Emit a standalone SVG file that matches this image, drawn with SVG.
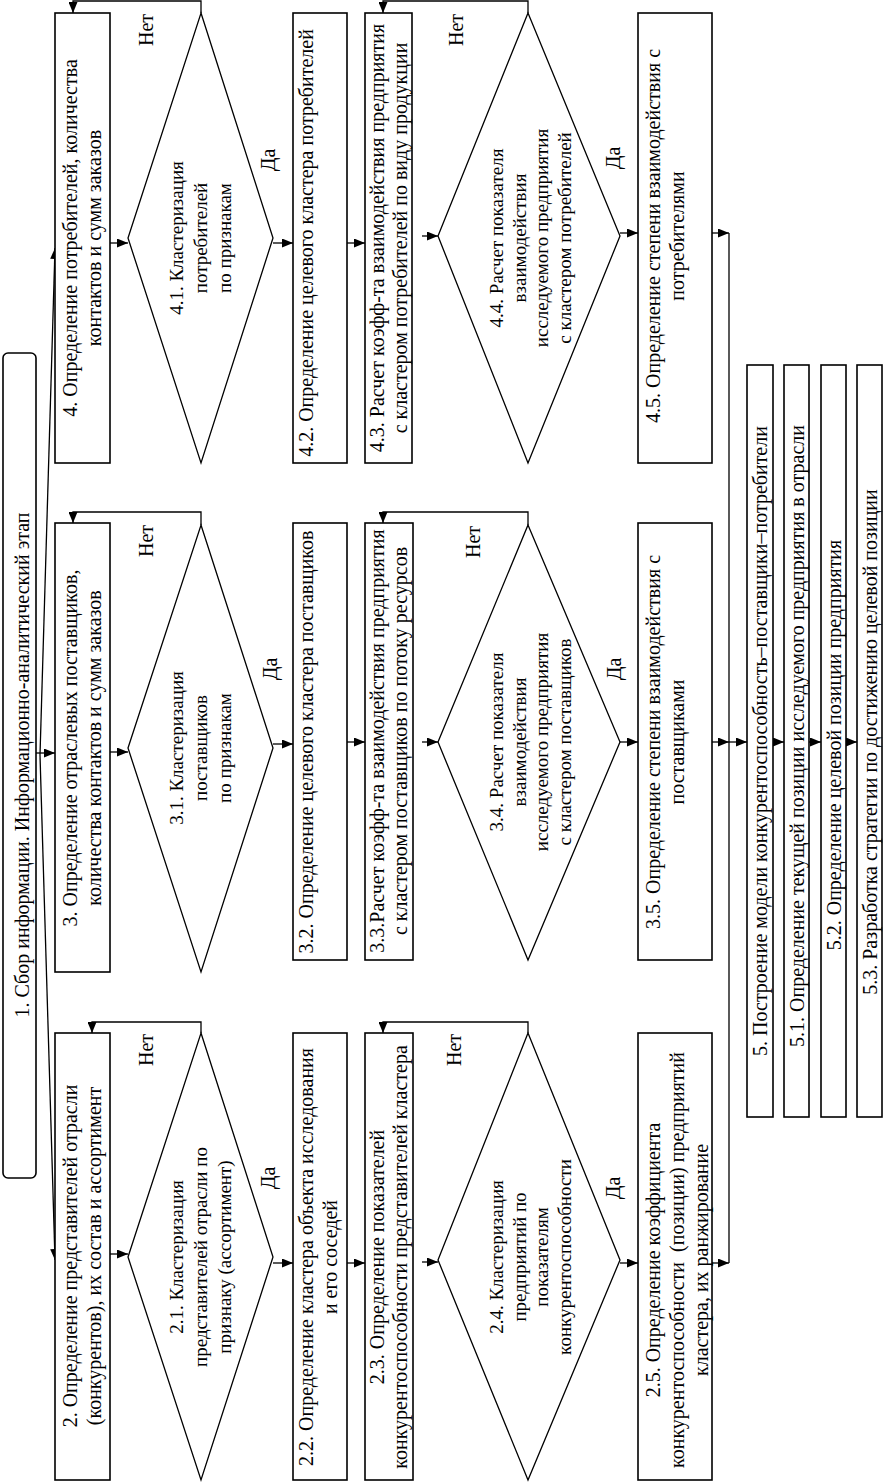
<svg xmlns="http://www.w3.org/2000/svg" width="883" height="1484" viewBox="0 0 883 1484">
<style>
.b{fill:#fff;stroke:#000;stroke-width:1.6}
.d{fill:#fff;stroke:#000;stroke-width:1.3}
.c{fill:none;stroke:#000;stroke-width:1.3}
text{font-family:"Liberation Serif","Times New Roman",serif;font-size:20px;fill:#000;text-anchor:middle}
.s{font-size:19px}
</style>
<defs>
<marker id="ah" markerUnits="userSpaceOnUse" markerWidth="11" markerHeight="9" refX="11" refY="4.5" orient="auto">
<path d="M0,0 L11,4.5 L0,9 z" fill="#000"/>
</marker>
</defs>
<rect width="883" height="1484" fill="#fff"/>

<g id="connectors">
<line class="c" x1="36" y1="753" x2="55" y2="753" marker-end="url(#ah)"/>
<line class="c" x1="40" y1="755" x2="55" y2="248" marker-end="url(#ah)"/>
<line class="c" x1="40" y1="755" x2="55" y2="1260" marker-end="url(#ah)"/>
<!-- row 4 -->
<line class="c" x1="110" y1="243" x2="128" y2="243" marker-end="url(#ah)"/>
<line class="c" x1="273" y1="243" x2="293" y2="243" marker-end="url(#ah)"/>
<line class="c" x1="347" y1="243" x2="365" y2="243" marker-end="url(#ah)"/>
<line class="c" x1="422" y1="236" x2="438" y2="236" marker-end="url(#ah)"/>
<line class="c" x1="620" y1="233" x2="638" y2="233" marker-end="url(#ah)"/>
<line class="c" x1="712" y1="233" x2="729" y2="233" marker-end="url(#ah)"/>
<!-- row 3 -->
<line class="c" x1="110" y1="752" x2="128" y2="752" marker-end="url(#ah)"/>
<line class="c" x1="273" y1="744" x2="293" y2="744" marker-end="url(#ah)"/>
<line class="c" x1="347" y1="742" x2="365" y2="742" marker-end="url(#ah)"/>
<line class="c" x1="422" y1="742" x2="438" y2="742" marker-end="url(#ah)"/>
<line class="c" x1="620" y1="742" x2="638" y2="742" marker-end="url(#ah)"/>
<line class="c" x1="712" y1="742" x2="729" y2="742" marker-end="url(#ah)"/>
<line class="c" x1="729" y1="742" x2="747" y2="742" marker-end="url(#ah)"/>
<line class="c" x1="773" y1="742" x2="784" y2="742" marker-end="url(#ah)"/>
<line class="c" x1="809" y1="742" x2="821" y2="742" marker-end="url(#ah)"/>
<line class="c" x1="846" y1="742" x2="857" y2="742" marker-end="url(#ah)"/>
<!-- row 2 -->
<line class="c" x1="110" y1="1254" x2="128" y2="1254" marker-end="url(#ah)"/>
<line class="c" x1="273" y1="1263" x2="293" y2="1263" marker-end="url(#ah)"/>
<line class="c" x1="347" y1="1263" x2="365" y2="1263" marker-end="url(#ah)"/>
<line class="c" x1="422" y1="1262" x2="438" y2="1262" marker-end="url(#ah)"/>
<line class="c" x1="620" y1="1263" x2="638" y2="1263" marker-end="url(#ah)"/>
<line class="c" x1="712" y1="1263" x2="729" y2="1263" marker-end="url(#ah)"/>
<!-- collector -->
<line class="c" x1="729" y1="233" x2="729" y2="1263"/>
<!-- Нет loops -->
<polyline class="c" points="201,13 201,1 73,1 73,13" marker-end="url(#ah)"/>
<polyline class="c" points="528,13 528,1 383,1 383,13" marker-end="url(#ah)"/>
<polyline class="c" points="201,525 201,512 73,512 73,523" marker-end="url(#ah)"/>
<polyline class="c" points="528,525 528,512 383,512 383,523" marker-end="url(#ah)"/>
<polyline class="c" points="201,1033 201,1022 92,1022 92,1033" marker-end="url(#ah)"/>
<polyline class="c" points="528,1033 528,1022 383,1022 383,1033" marker-end="url(#ah)"/>
<!-- labels -->
<text transform="translate(0,30) rotate(-90)" x="0" y="153">Нет</text>
<text transform="translate(0,541) rotate(-90)" x="0" y="153">Нет</text>
<text transform="translate(0,1050) rotate(-90)" x="0" y="153">Нет</text>
<text transform="translate(0,30) rotate(-90)" x="0" y="463">Нет</text>
<text transform="translate(0,542) rotate(-90)" x="0" y="480">Нет</text>
<text transform="translate(0,1050) rotate(-90)" x="0" y="461">Нет</text>
<text transform="translate(0,160) rotate(-90)" x="0" y="275">Да</text>
<text transform="translate(0,669) rotate(-90)" x="0" y="277">Да</text>
<text transform="translate(0,1178) rotate(-90)" x="0" y="275">Да</text>
<text transform="translate(0,158) rotate(-90)" x="0" y="620">Да</text>
<text transform="translate(0,669) rotate(-90)" x="0" y="621">Да</text>
<text transform="translate(0,1188) rotate(-90)" x="0" y="620">Да</text>
</g>

<g id="n1">
<rect class="b" x="3" y="353" width="33" height="825" rx="5"/>
<text transform="translate(0,765) rotate(-90)" x="0" y="29">1. Сбор информации. Информационно-аналитический этап</text>
</g>

<g id="n4">
<rect class="b" x="55" y="13" width="55" height="450"/>
<text transform="translate(0,238) rotate(-90)"><tspan x="0" y="77">4. Определение потребителей, количества</tspan><tspan x="0" y="101">контактов и сумм заказов</tspan></text>
</g>
<g id="n3">
<rect class="b" x="55" y="523" width="55" height="449"/>
<text transform="translate(0,748) rotate(-90)"><tspan x="0" y="77">3. Определение отраслевых поставщиков,</tspan><tspan x="0" y="101">количества контактов и сумм заказов</tspan></text>
</g>
<g id="n2">
<rect class="b" x="55" y="1033" width="55" height="447"/>
<text transform="translate(0,1256) rotate(-90)"><tspan x="0" y="77">2. Определение представителей отрасли</tspan><tspan x="0" y="101">(конкурентов), их состав и ассортимент</tspan></text>
</g>

<g id="n4_1">
<polygon class="d" points="201,13 273,238 201,463 128,238"/>
<text class="s" transform="translate(0,238) rotate(-90)"><tspan x="0" y="183">4.1. Кластеризация</tspan><tspan x="0" y="207">потребителей</tspan><tspan x="0" y="231">по признакам</tspan></text>
</g>
<g id="n3_1">
<polygon class="d" points="201,525 273,748 201,972 128,748"/>
<text class="s" transform="translate(0,748) rotate(-90)"><tspan x="0" y="183">3.1. Кластеризация</tspan><tspan x="0" y="207">поставщиков</tspan><tspan x="0" y="231">по признакам</tspan></text>
</g>
<g id="n2_1">
<polygon class="d" points="201,1033 273,1257 201,1480 128,1257"/>
<text class="s" transform="translate(0,1257) rotate(-90)"><tspan x="0" y="183">2.1. Кластеризация</tspan><tspan x="0" y="207">представителей отрасли по</tspan><tspan x="0" y="231">признаку (ассортимент)</tspan></text>
</g>

<g id="n4_2">
<rect class="b" x="293" y="13" width="54" height="450"/>
<text transform="translate(0,243) rotate(-90)" x="0" y="313">4.2. Определение целевого кластера потребителей</text>
</g>
<g id="n3_2">
<rect class="b" x="293" y="523" width="54" height="437"/>
<text transform="translate(0,742) rotate(-90)" x="0" y="313">3.2. Определение целевого кластера поставщиков</text>
</g>
<g id="n2_2">
<rect class="b" x="293" y="1033" width="54" height="447"/>
<text transform="translate(0,1257) rotate(-90)"><tspan x="0" y="313">2.2. Определение кластера объекта исследования</tspan><tspan x="0" y="337">и его соседей</tspan></text>
</g>

<g id="n4_3">
<rect class="b" x="365" y="13" width="47" height="450"/>
<text transform="translate(0,238) rotate(-90)"><tspan x="0" y="384">4.3. Расчет коэфф-та взаимодействия предприятия</tspan><tspan x="0" y="407">с кластером потребителей по виду продукции</tspan></text>
</g>
<g id="n3_3">
<rect class="b" x="365" y="523" width="48" height="437"/>
<text transform="translate(0,741) rotate(-90)"><tspan x="0" y="384">3.3.Расчет коэфф-та взаимодействия предприятия</tspan><tspan x="0" y="407">с кластером поставщиков по потоку ресурсов</tspan></text>
</g>
<g id="n2_3">
<rect class="b" x="365" y="1033" width="48" height="447"/>
<text transform="translate(0,1257) rotate(-90)"><tspan x="0" y="384">2.3. Определение показателей</tspan><tspan x="0" y="407">конкурентоспособности представителей кластера</tspan></text>
</g>

<g id="n4_4">
<polygon class="d" points="528,13 620,236 528,463 438,236"/>
<text class="s" transform="translate(0,238) rotate(-90)"><tspan x="0" y="503">4.4. Расчет показателя</tspan><tspan x="0" y="525.5">взаимодействия</tspan><tspan x="0" y="548">исследуемого предприятия</tspan><tspan x="0" y="570.5">с кластером потребителей</tspan></text>
</g>
<g id="n3_4">
<polygon class="d" points="528,525 620,742 528,960 438,742"/>
<text class="s" transform="translate(0,742) rotate(-90)"><tspan x="0" y="503">3.4. Расчет показателя</tspan><tspan x="0" y="525.5">взаимодействия</tspan><tspan x="0" y="548">исследуемого предприятия</tspan><tspan x="0" y="570.5">с кластером поставщиков</tspan></text>
</g>
<g id="n2_4">
<polygon class="d" points="528,1033 620,1260 528,1480 438,1260"/>
<text class="s" transform="translate(0,1257) rotate(-90)"><tspan x="0" y="503">2.4. Кластеризация</tspan><tspan x="0" y="525.5">предприятий по</tspan><tspan x="0" y="548">показателям</tspan><tspan x="0" y="570.5">конкурентоспособности</tspan></text>
</g>

<g id="n4_5">
<rect class="b" x="638" y="13" width="74" height="450"/>
<text transform="translate(0,236) rotate(-90)"><tspan x="0" y="660">4.5. Определение степени взаимодействия с</tspan><tspan x="0" y="684">потребителями</tspan></text>
</g>
<g id="n3_5">
<rect class="b" x="638" y="523" width="74" height="437"/>
<text transform="translate(0,742) rotate(-90)"><tspan x="0" y="660">3.5. Определение степени взаимодействия с</tspan><tspan x="0" y="684">поставщиками</tspan></text>
</g>
<g id="n2_5">
<rect class="b" x="638" y="1033" width="74" height="447"/>
<text transform="translate(0,1260) rotate(-90)" xml:space="preserve"><tspan x="0" y="660">2.5. Определение коэффициента</tspan><tspan x="0" y="684">конкурентоспособности  (позиции) предприятий</tspan><tspan x="0" y="708">кластера, их ранжирование</tspan></text>
</g>

<g id="n5">
<rect class="b" x="747" y="365" width="26" height="752"/>
<text transform="translate(0,741) rotate(-90)" x="0" y="767">5. Построение модели конкурентоспособность–поставщики–потребители</text>
</g>
<g id="n5_1">
<rect class="b" x="784" y="365" width="25" height="752"/>
<text transform="translate(0,736) rotate(-90)" x="0" y="804">5.1. Определение текущей позиции исследуемого предприятия в отрасли</text>
</g>
<g id="n5_2">
<rect class="b" x="821" y="365" width="25" height="752"/>
<text transform="translate(0,745) rotate(-90)" x="0" y="841">5.2. Определение целевой позиции предприятия</text>
</g>
<g id="n5_3">
<rect class="b" x="857" y="365" width="25" height="752"/>
<text transform="translate(0,742) rotate(-90)" x="0" y="877">5.3. Разработка стратегии по достижению целевой позиции</text>
</g>
</svg>
